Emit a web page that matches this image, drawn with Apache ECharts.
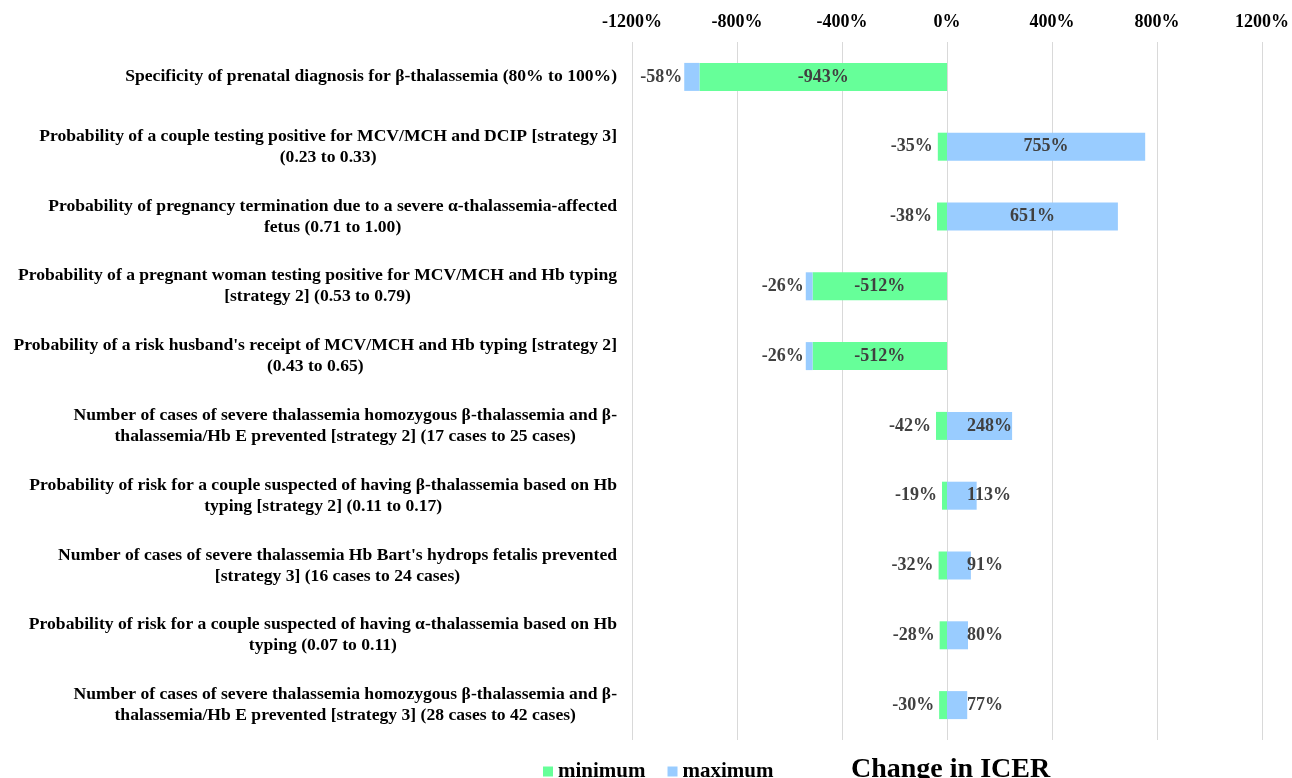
<!DOCTYPE html>
<html>
<head>
<meta charset="utf-8">
<script src="https://cdn.jsdelivr.net/npm/echarts@6/dist/echarts.min.js"></script>
<style>
  html, body { margin: 0; padding: 0; background: #fff; }
  #chart { width: 1292px; height: 778px; }
</style>
</head>
<body>
<div id="chart"></div>
<script>
const parameters = [
  "Specificity of prenatal diagnosis for β-thalassemia (80% to 100%)",
  "Probability of a couple testing positive for MCV/MCH and DCIP [strategy 3]\n(0.23 to 0.33)",
  "Probability of pregnancy termination due to a severe α-thalassemia-affected\nfetus (0.71 to 1.00)",
  "Probability of a pregnant woman testing positive for MCV/MCH and Hb typing\n[strategy 2] (0.53 to 0.79)",
  "Probability of a risk husband's receipt of MCV/MCH and Hb typing [strategy 2]\n(0.43 to 0.65)",
  "Number of cases of severe thalassemia homozygous β-thalassemia and β-\nthalassemia/Hb E prevented [strategy 2] (17 cases to 25 cases)",
  "Probability of risk for a couple suspected of having β-thalassemia based on Hb\ntyping [strategy 2] (0.11 to 0.17)",
  "Number of cases of severe thalassemia Hb Bart's hydrops fetalis prevented\n[strategy 3] (16 cases to 24 cases)",
  "Probability of risk for a couple suspected of having α-thalassemia based on Hb\ntyping (0.07 to 0.11)",
  "Number of cases of severe thalassemia homozygous β-thalassemia and β-\nthalassemia/Hb E prevented [strategy 3] (28 cases to 42 cases)",
];
// change in ICER, percent
const minimumValues = [-943, -35, -38, -512, -512, -42, -19, -32, -28, -30];
const maximumValues = [-58, 755, 651, -26, -26, 248, 113, 91, 80, 77];
const xTicks = { min: -1200, max: 1200, step: 400 };

const serif = '"Liberation Serif", "Times New Roman", serif';
const labelStyle = {
  fontFamily: serif,
  fontWeight: "bold",
  fontSize: 18,
  color: "#404040",
};

// small bars get their label outside, like the original
function minLabel(v) {
  if (Math.abs(v) >= 100) return { position: "inside" };
  return { position: "left", distance: 5 };
}
function maxLabel(v) {
  if (v <= -100 || v >= 300) return { position: "inside" };
  if (v < 0) return { position: "left", distance: 2 };
  return { position: "insideLeft", distance: 20 };
}

const chart = echarts.init(document.getElementById("chart"));
chart.setOption({
  animation: false,
  grid: { left: 632, right: 28, top: 42, bottom: 38 },
  legend: {
    data: ["minimum", "maximum"],
    left: 538,
    top: 756,
    icon: "rect",
    itemWidth: 10,
    itemHeight: 10,
    itemGap: 22,
    textStyle: {
      fontFamily: serif,
      fontWeight: "bold",
      fontSize: 21,
      color: "#000",
    },
  },
  title: {
    text: "Change in ICER",
    left: 846,
    top: 751,
    textStyle: {
      fontFamily: serif,
      fontWeight: "bold",
      fontSize: 28,
      color: "#000",
    },
  },
  xAxis: {
    type: "value",
    position: "top",
    min: xTicks.min,
    max: xTicks.max,
    interval: xTicks.step,
    axisLine: { show: false },
    axisTick: { show: false },
    axisLabel: {
      formatter: (v) => v + "%",
      margin: 11,
      fontFamily: serif,
      fontWeight: "bold",
      fontSize: 18,
      color: "#000",
    },
    splitLine: { lineStyle: { color: "#d9d9d9", width: 1 } },
  },
  yAxis: {
    type: "category",
    inverse: true,
    data: parameters,
    axisLine: { show: false, onZero: false },
    axisTick: { show: false },
    axisLabel: {
      margin: 15,
      formatter: (v) =>
        v
          .split("\n")
          .map((line) => "{c|" + line + "}")
          .join("\n"),
      rich: {
        c: {
          align: "center",
          fontFamily: serif,
          fontWeight: "bold",
          fontSize: 17.6,
          lineHeight: 21,
          color: "#000",
        },
      },
    },
  },
  series: [
    {
      name: "minimum",
      type: "bar",
      stack: "icer",
      barWidth: 28,
      itemStyle: { color: "#66ff99" },
      label: { show: true, formatter: (p) => p.value + "%", ...labelStyle },
      data: minimumValues.map((v) => ({ value: v, label: minLabel(v) })),
    },
    {
      name: "maximum",
      type: "bar",
      stack: "icer",
      barWidth: 28,
      itemStyle: { color: "#99ccff" },
      label: { show: true, formatter: (p) => p.value + "%", ...labelStyle },
      data: maximumValues.map((v) => ({ value: v, label: maxLabel(v) })),
    },
  ],
});
</script>
</body>
</html>
